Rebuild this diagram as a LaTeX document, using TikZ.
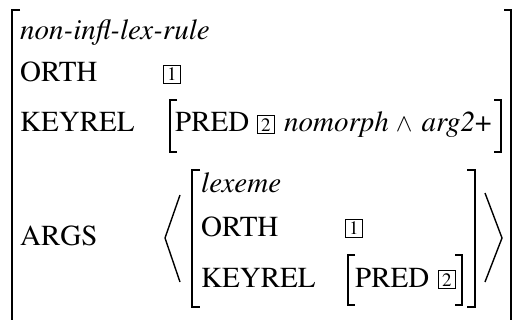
\documentclass[tikz,border=0pt]{standalone}
\usepackage[T1]{fontenc}
\renewcommand{\rmdefault}{ptm}

\begin{document}
\begin{tikzpicture}[x=1pt, y=-1pt,
    attr/.style={anchor=base west, inner sep=0pt, font=\fontsize{29}{35}\selectfont},
    type/.style={attr, font=\fontsize{29}{35}\selectfont\itshape},
    tag/.style={draw, line width=0.8pt, anchor=south west, minimum width=17pt, minimum height=18pt, inner sep=0pt, font=\fontsize{19}{21}\selectfont},
    bigbrack/.style={line width=2pt, line join=miter},
    smallbrack/.style={line width=1.1pt, line join=miter},
    anglebrack/.style={line width=1.4pt}
  ]
  \useasboundingbox (0,0) rectangle (513,320);

  % outer matrix
  \node[type] (rule) at (20,40) {non-infl-lex-rule};
  \node[attr] (orth) at (20,82) {ORTH};
  \node[tag] (tagA) at (163,83.5) {1};
  \node[attr] (keyrel) at (20,132) {KEYREL};
  \node[attr] (pred) at (175,132) {PRED};
  \node[tag] (tagB) at (257,134) {2};
  \node[attr] (predval) at (284,132) {\textit{nomorph}\hspace{7pt}$\wedge$\hspace{9pt}\textit{arg2}+};
  \node[attr] (args) at (20,245) {ARGS};

  % the lexeme inside the list
  \node[type] (lex) at (201,193) {lexeme};
  \node[attr] (orthB) at (201,236) {ORTH};
  \node[tag] (tagC) at (345,237.5) {1};
  \node[attr] (keyrelB) at (201,287) {KEYREL};
  \node[attr] (predB) at (355,287) {PRED};
  \node[tag] (tagD) at (438,289) {2};

  % brackets
  \draw[bigbrack] (20,10) -- (12,10) -- (12,325);
  \draw[bigbrack] (504,10) -- (511,10) -- (511,325);
  \draw[smallbrack] (177,100) -- (170,100) -- (170,152) -- (177,152);
  \draw[smallbrack] (494,100) -- (501,100) -- (501,152) -- (494,152);
  \draw[bigbrack] (200,170) -- (192,170) -- (192,307) -- (200,307);
  \draw[bigbrack] (467,170) -- (475,170) -- (475,307) -- (467,307);
  \draw[smallbrack] (355,255) -- (348,255) -- (348,305) -- (355,305);
  \draw[smallbrack] (455,255) -- (462,255) -- (462,305) -- (455,305);

  % list delimiters
  \draw[anglebrack] (180,195) -- (165,238) -- (180,282);
  \draw[anglebrack] (485,193) -- (502,238) -- (485,282);
\end{tikzpicture}
\end{document}
